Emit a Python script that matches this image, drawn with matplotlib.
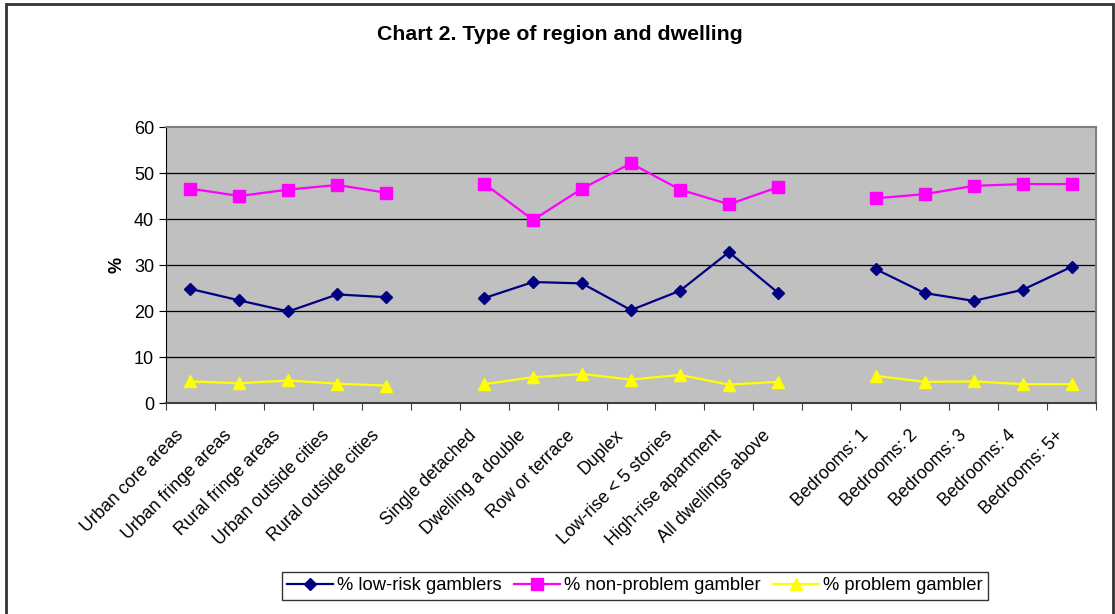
import numpy as np
import matplotlib
matplotlib.use("Agg")
import matplotlib.pyplot as plt
from matplotlib.patches import Rectangle

plt.rcParams['font.family'] = ['Liberation Sans', 'DejaVu Sans']

# categories (blank entries separate the three groups)
categories = ['Urban core areas', 'Urban fringe areas', 'Rural fringe areas',
              'Urban outside cities', 'Rural outside cities', '',
              'Single detached', 'Dwelling a double', 'Row or terrace', 'Duplex',
              'Low-rise < 5 stories', 'High-rise apartment', 'All dwellings above', '',
              'Bedrooms: 1', 'Bedrooms: 2', 'Bedrooms: 3', 'Bedrooms: 4', 'Bedrooms: 5+']

low_risk = [24.8, 22.3, 19.9, 23.6, 23.0, None,
            22.8, 26.3, 26.0, 20.2, 24.4, 32.8, 24.0, None,
            29.1, 23.9, 22.2, 24.6, 29.6]
non_problem = [46.6, 45.0, 46.4, 47.4, 45.7, None,
               47.7, 39.8, 46.6, 52.1, 46.4, 43.2, 46.9, None,
               44.5, 45.4, 47.2, 47.6, 47.6]
problem = [4.7, 4.3, 4.9, 4.2, 3.8, None,
           4.1, 5.6, 6.3, 5.1, 6.1, 4.0, 4.6, None,
           5.9, 4.6, 4.7, 4.1, 4.1]

x = np.arange(len(categories))
def arr(v):
    return np.array([np.nan if a is None else a for a in v], dtype=float)

fig = plt.figure(figsize=(11.15, 6.14), dpi=100)
ax = fig.add_axes([166/1115, 1 - 403/614, (1096 - 166)/1115, (403 - 127)/614])
ax.set_facecolor('#C0C0C0')

ax.plot(x, arr(low_risk), color='#000080', marker='D', markersize=6, linewidth=1.6,
        label='% low-risk gamblers')
ax.plot(x, arr(non_problem), color='#FF00FF', marker='s', markersize=9, linewidth=1.6,
        label='% non-problem gambler')
ax.plot(x, arr(problem), color='#FFFF00', marker='^', markersize=9, linewidth=1.6,
        label='% problem gambler')

ax.set_xlim(-0.5, len(categories) - 0.5)
ax.set_ylim(0, 60)
ax.set_yticks(range(0, 61, 10))
for yv in range(10, 60, 10):
    ax.axhline(yv, color='black', linewidth=0.9, zorder=0.5)

# boundary ticks, category names placed under the centres
ax.set_xticks(np.arange(-0.5, len(categories), 1.0))
ax.set_xticklabels([])
ax.tick_params(axis='x', direction='out', length=5, color='#404040')
ax.tick_params(axis='y', direction='out', length=5, labelsize=13, color='black')
for xi, name in zip(x, categories):
    ax.annotate(name, xy=(xi, 0), xycoords=('data', 'axes fraction'),
                xytext=(-16, -24), textcoords='offset pixels', rotation=45,
                ha='right', va='top', rotation_mode='anchor', fontsize=12.8)

ax.spines['left'].set_color('black')
ax.spines['bottom'].set_color('#404040')
ax.spines['bottom'].set_linewidth(1.5)
ax.spines['top'].set_color('#808080')
ax.spines['right'].set_color('#808080')
ax.spines['top'].set_linewidth(1.5)
ax.spines['right'].set_linewidth(1.5)

ax.set_ylabel('%', fontsize=13, fontweight='bold', labelpad=6)

fig.text(0.502, 0.943, 'Chart 2. Type of region and dwelling', ha='center', va='center',
         fontsize=15.3, fontweight='bold')

leg = fig.legend(loc='center', bbox_to_anchor=(635/1115, 1 - 586/614), ncol=3,
                 fontsize=13.2, frameon=True, fancybox=False, handlelength=2.5,
                 columnspacing=0.7, handletextpad=0.2, borderpad=0.3)
leg.get_frame().set_edgecolor('black')
leg.get_frame().set_linewidth(1.0)

# outer chart border
fig.patches.append(Rectangle((6/1115, -0.02), (1113 - 6)/1115, 1.02 - 4/614,
                             transform=fig.transFigure, fill=False,
                             edgecolor='#333333', linewidth=2))

fig.savefig('out.png', dpi=100)
